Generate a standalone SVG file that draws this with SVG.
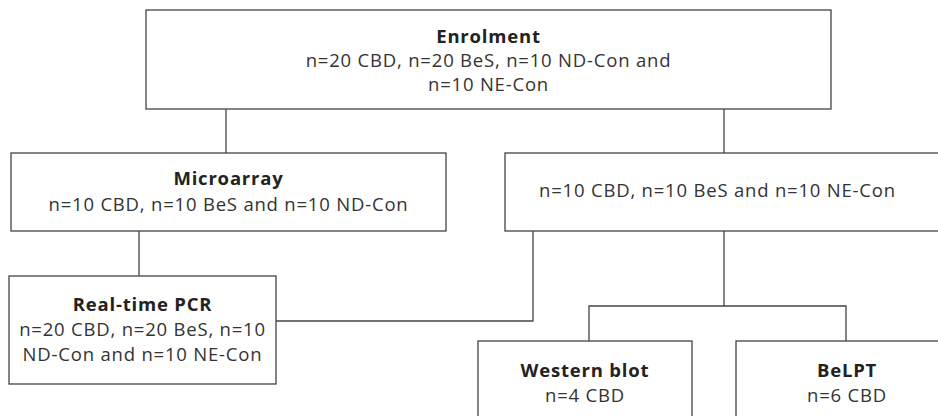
<svg xmlns="http://www.w3.org/2000/svg" width="938" height="416" viewBox="0 0 938 416">
<style>
.box{fill:#fff;stroke:#444;stroke-width:1.3}
.con{fill:none;stroke:#444;stroke-width:1.3}
text{font-family:"Open Sans","Liberation Sans",sans-serif;font-size:18.5px;letter-spacing:0.8px;fill:#333;text-anchor:middle}
.b{font-weight:bold;fill:#222}
</style>
<rect width="938" height="416" fill="#fff"/>
<g id="connectors">
<path class="con" d="M226 109V153"/>
<path class="con" d="M724 109V153"/>
<path class="con" d="M139 231V276"/>
<path class="con" d="M276 321H533V231"/>
<path class="con" d="M724 231V306"/>
<path class="con" d="M589 341V306H846V341"/>
</g>
<g id="enrolment">
<rect class="box" x="146" y="10" width="685" height="99"/>
<text class="b" x="488.5" y="43">Enrolment</text>
<text x="488.5" y="67">n=20 CBD, n=20 BeS, n=10 ND-Con and</text>
<text x="488.5" y="91">n=10 NE-Con</text>
</g>
<g id="microarray">
<rect class="box" x="11" y="153" width="435" height="78"/>
<text class="b" x="228.5" y="185">Microarray</text>
<text x="228.5" y="211">n=10 CBD, n=10 BeS and n=10 ND-Con</text>
</g>
<g id="subset">
<rect class="box" x="505" y="153" width="440" height="78"/>
<text x="717.5" y="197">n=10 CBD, n=10 BeS and n=10 NE-Con</text>
</g>
<g id="pcr">
<rect class="box" x="9" y="276" width="267" height="108"/>
<text class="b" x="142.5" y="311">Real-time PCR</text>
<text x="142.5" y="336">n=20 CBD, n=20 BeS, n=10</text>
<text x="142.5" y="361">ND-Con and n=10 NE-Con</text>
</g>
<g id="western">
<rect class="box" x="478" y="341" width="214" height="90"/>
<text class="b" x="585" y="377">Western blot</text>
<text x="585" y="402">n=4 CBD</text>
</g>
<g id="belpt">
<rect class="box" x="736" y="341" width="222" height="90"/>
<text class="b" x="847" y="377">BeLPT</text>
<text x="847" y="402">n=6 CBD</text>
</g>
</svg>
